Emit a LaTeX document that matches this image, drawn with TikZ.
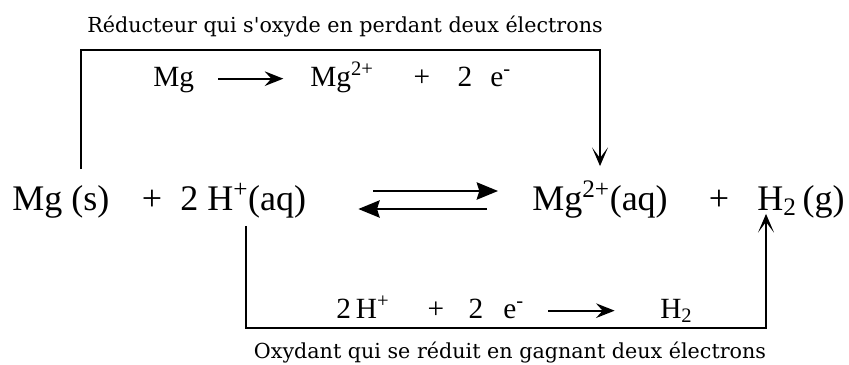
\documentclass[tikz,border=0pt]{standalone}
\usepackage{fontspec}
\setmainfont{Liberation Serif}
\newfontfamily\slabfont{DejaVu Serif}
\usetikzlibrary{arrows.meta,calc}

\begin{document}
\begin{tikzpicture}[x=0.75pt, y=-0.75pt, >=Stealth,
  main/.style={font=\fontsize{27}{31}\selectfont, inner sep=0pt, anchor=base west,
    text height=17pt, text depth=5pt},
  half/.style={font=\fontsize{22}{26}\selectfont, inner sep=0pt, anchor=base west,
    text height=15pt, text depth=4pt},
  caption/.style={font=\slabfont\fontsize{15.5}{18}\selectfont, inner sep=0pt, anchor=base},
  bracket/.style={line width=1pt, -{Stealth[length=14pt,width=12pt,inset=8pt]}},
  eqarrow/.style={line width=1.5pt, -{Stealth[length=16pt,width=13pt,inset=2pt]}},
  halfarrow/.style={line width=1.3pt, -{Stealth[length=14pt,width=11pt,inset=5pt]}}]
\useasboundingbox (0,0) rectangle (849,364);

\node[main] (msolid) at (12,210) {Mg (s)};
\node[main,anchor=base] (plusl) at (152,210) {+};
\node[main] (hion) at (180,210) {2 H\textsuperscript{+}(aq)};
\node[main] (mgion) at (532,210) {Mg\textsuperscript{2+}(aq)};
\node[main,anchor=base] (plusr) at (719,210) {+};
\node[main] (hgas) at (757,210) {H\textsubscript{2}\,(g)};
\draw[eqarrow] ($(hion.east)+(67,-11)$) -- ($(mgion.west)+(-34,-11)$);
\draw[eqarrow] ($(mgion.west)+(-45,7)$) -- ($(hion.east)+(52,7)$);

\node[caption] (oxlabel) at (345,32) {Réducteur qui s\textquotesingle oxyde en perdant deux électrons};
\node[half] (oxmg) at (153,86) {Mg};
\node[half] (oxion) at (310,86) {Mg\textsuperscript{2+}};
\node[half,anchor=base] (oxplus) at (422,86) {+};
\node[half,anchor=base] (oxtwo) at (465,86) {2};
\node[half] (oxel) at (490,86) {e\textsuperscript{-}};
\draw[halfarrow, shorten <=18pt, shorten >=20pt] (oxmg.east) -- (oxion.west);

\node[caption] (redlabel) at (510,358) {Oxydant qui se réduit en gagnant deux électrons};
\node[half] (redh) at (336,318) {2\,H\textsuperscript{+}};
\node[half,anchor=base] (redplus) at (436,318) {+};
\node[half,anchor=base] (redtwo) at (476,318) {2};
\node[half] (redel) at (503,318) {e\textsuperscript{-}};
\node[half] (redhtwo) at (660,318) {H\textsubscript{2}};
\draw[halfarrow, shorten <=18pt, shorten >=34pt] (redel.east) -- (redhtwo.west);

\coordinate (oxl) at (81,50);
\coordinate (oxr) at (600,50);
\draw[bracket] ($(oxl |- msolid.north)+(0,-18)$) -- (oxl) -- (oxr) -- ($(oxr |- mgion.north)+(0,-21)$);
\coordinate (redl) at (246,328);
\coordinate (redr) at (766,328);
\draw[bracket] ($(redl |- hion.south)+(0,9)$) -- (redl) -- (redr) -- ($(redr |- hgas.south)+(0,-3)$);
\end{tikzpicture}
\end{document}
